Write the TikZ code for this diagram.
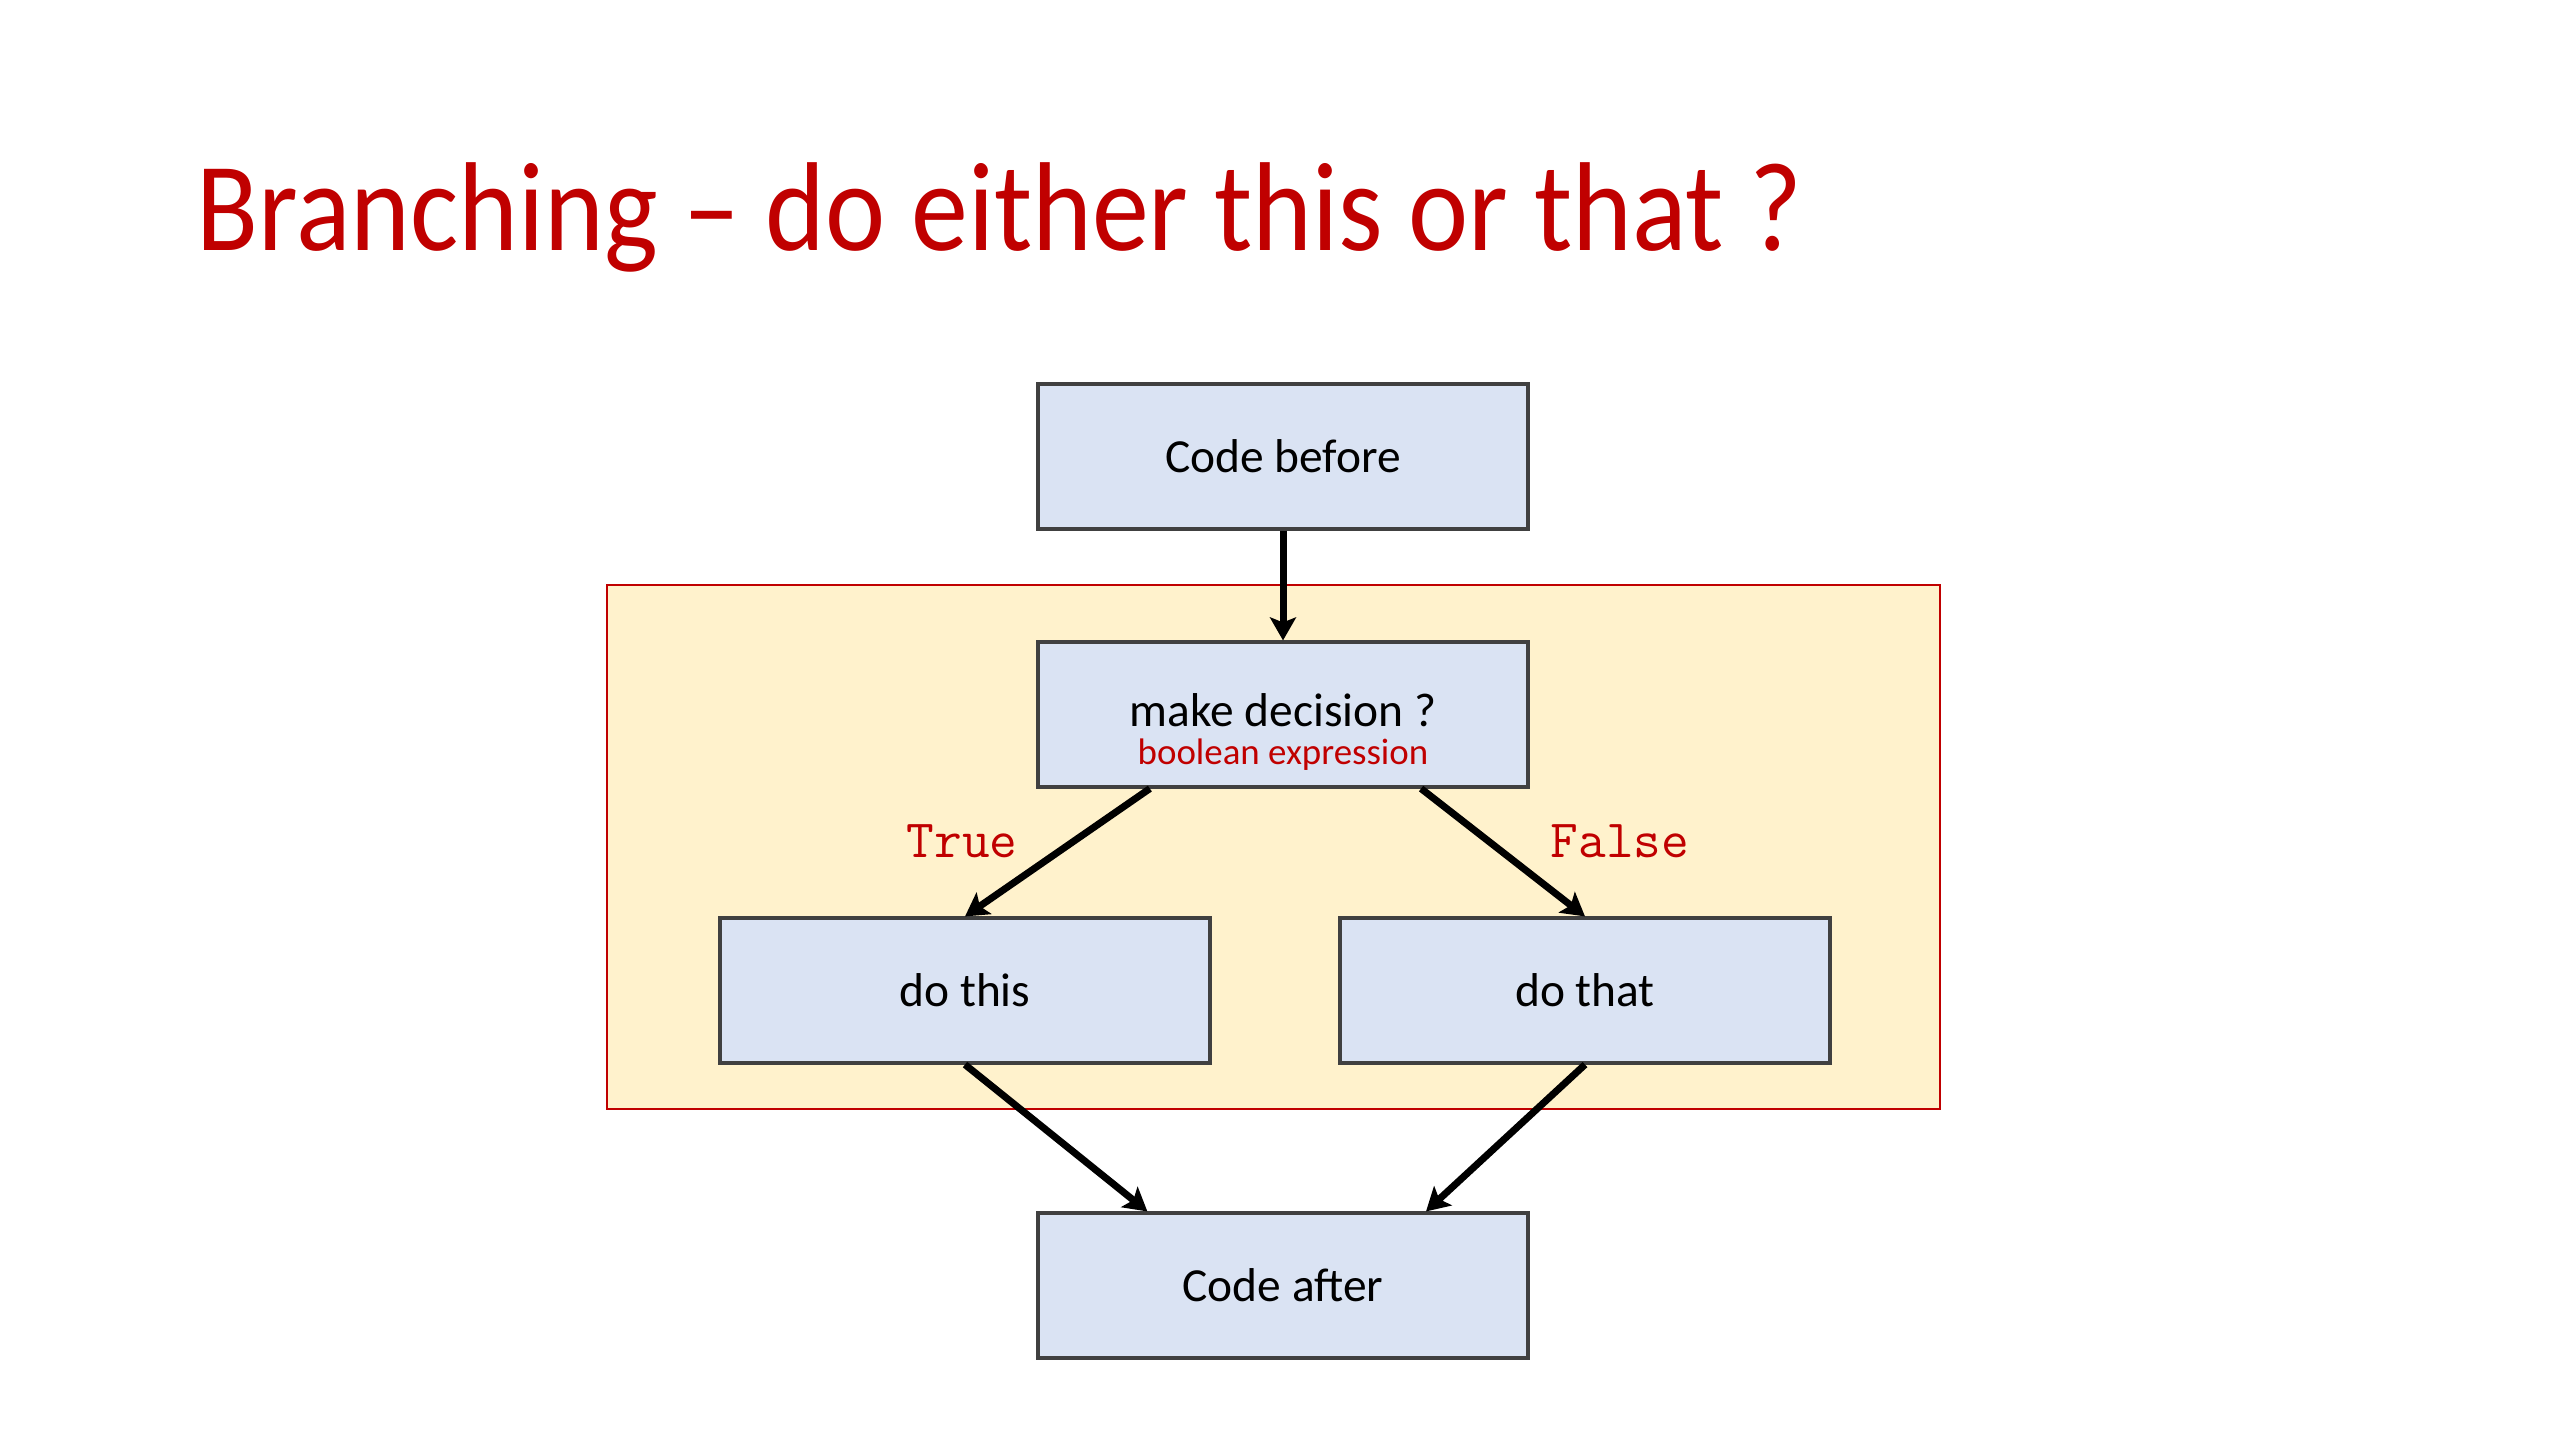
\documentclass[tikz,border=0pt]{standalone}
\usepackage{fontspec}
\setmainfont{Carlito}
\usepackage{tikz}
\usetikzlibrary{positioning,arrows.meta,calc}
\definecolor{slidered}{HTML}{C00000}
\definecolor{boxblue}{HTML}{DAE3F3}
\definecolor{framefill}{HTML}{FFF2CC}

\begin{document}
\begin{tikzpicture}[
      >={Stealth[length=2.3mm,width=2.6mm,inset=0.5mm]},
      blk/.style={draw=black!75,line width=0.9pt,fill=boxblue,
        minimum width=4.9cm,minimum height=1.45cm,inner sep=0pt,
        align=center,font=\fontsize{13.5}{16}\selectfont},
      frame/.style={draw=slidered,line width=0.8pt,fill=framefill},
      flow/.style={draw=black,line width=2pt,->},
      cond/.style={text=slidered,font=\ttfamily\fontsize{15.3}{18}\selectfont}
    ]
    \useasboundingbox (0,0) rectangle (25.6,-14.4);
    \node[anchor=base west,inner sep=0pt,text=slidered,xscale=0.9,
      transform shape,font=\fontsize{36}{42}\selectfont] (title) at (1.96,-2.50)
      {Branching -- do either this or that ?};
    \draw[frame] (6.07,-5.85) rectangle (19.40,-11.09);
    \node[blk] (B) at (12.83,-4.565) {Code before};
    \node[blk] (D) at (12.83,-7.145)
      {\raisebox{-0.5cm}[0pt][0pt]{\shortstack{make decision ?\\[0.5pt]
       \textcolor{slidered}{\fontsize{10.5}{12}\selectfont boolean expression}}}};
    \node[blk] (T) at (9.65,-9.905) {do this};
    \node[blk] (F) at (15.85,-9.905) {do that};
    \node[blk] (A) at (12.83,-12.855) {Code after};
    \node[cond] (t) at (9.62,-8.41) {True};
    \node[cond] (f) at (16.20,-8.41) {False};
    \draw[flow] (B) -- (D);
    \draw[flow] ($(D.south west)!0.23!(D.south east)$) -- (T.north);
    \draw[flow] ($(D.south west)!0.78!(D.south east)$) -- (F.north);
    \draw[flow] (T.south) -- ($(A.north west)!0.225!(A.north east)$);
    \draw[flow] (F.south) -- ($(A.north west)!0.79!(A.north east)$);
  \end{tikzpicture}
\end{document}
